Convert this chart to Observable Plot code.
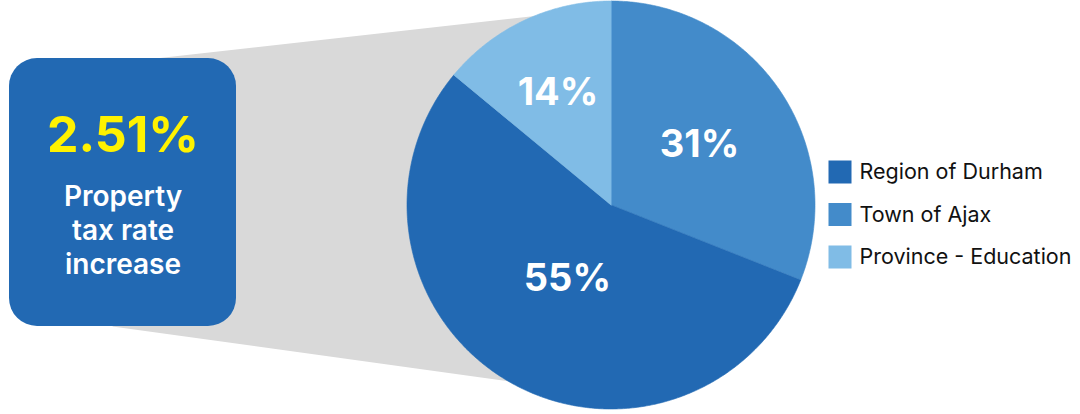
<!DOCTYPE html>
<html>
<head>
<meta charset="utf-8">
<script src="https://cdn.jsdelivr.net/npm/d3@7"></script>
<script src="https://cdn.jsdelivr.net/npm/@observablehq/plot@0.6"></script>
<style>
  html, body { margin: 0; padding: 0; background: #ffffff; }
  svg { display: block; font-family: Inter, "Noto Sans", sans-serif; }
</style>
</head>
<body>
<div id="chart"></div>
<script>
// ---- data ----
const categories = ["Region of Durham", "Town of Ajax", "Province - Education"];
const shares = [55, 31, 14];
const colors = ["#2269b3", "#438bca", "#80bce6"];
const pieOrder = ["Town of Ajax", "Region of Durham", "Province - Education"]; // clockwise from 12 o'clock
const headline = "2.51%";
const captionLines = ["Property", "tax rate", "increase"];

// ---- layout ----
const W = 1080, H = 414;
const cx = 610.5, cy = 204.5, R = 204;
const labelRadius = {"Town of Ajax": 0.525, "Region of Durham": 0.42, "Province - Education": 0.61};
const box = {x1: 9, x2: 236, y1: 58, y2: 326};
const funnel = [
  {x: 155, y: 58}, {x: cx, y: 7}, {x: cx, y: 395}, {x: 112, y: 326}
];

const shareOf = Object.fromEntries(categories.map((c, i) => [c, shares[i]]));
const pieData = pieOrder.map(c => ({cat: c, value: shareOf[c]}));
const arcs = d3.pie().sort(null).value(d => d.value)(pieData);

const wedgePts = [];
const labels = [];
for (const a of arcs) {
  const cat = a.data.cat;
  wedgePts.push({cat, x: cx, y: cy});
  const steps = Math.max(2, Math.ceil((a.endAngle - a.startAngle) / (Math.PI / 360)));
  for (let i = 0; i <= steps; i++) {
    const t = a.startAngle + (a.endAngle - a.startAngle) * i / steps;
    wedgePts.push({cat, x: cx + R * Math.sin(t), y: cy - R * Math.cos(t)});
  }
  const mid = (a.startAngle + a.endAngle) / 2;
  const lr = R * labelRadius[cat];
  labels.push({cat, text: a.data.value + "%", x: cx + lr * Math.sin(mid), y: cy - lr * Math.cos(mid)});
}

const legendData = categories.map((c, i) => ({cat: c, i}));
const legX = 828.5, legSize = 23, legY0 = 172, legStep = 42.5;

const captionData = captionLines.map((t, i) => ({t, i}));
const boxCx = (box.x1 + box.x2) / 2;

const chart = Plot.plot({
  width: W,
  height: H,
  margin: 0,
  style: {background: "transparent", fontFamily: "Inter, 'Noto Sans', sans-serif"},
  x: {domain: [0, W], range: [0, W], axis: null},
  y: {domain: [0, H], range: [0, H], axis: null},
  color: {domain: categories, range: colors},
  marks: [
    // gray funnel
    Plot.line(funnel, {x: "x", y: "y", fill: "#d9d9d9", stroke: "none", curve: "linear-closed"}),
    // pie
    Plot.line(wedgePts, {x: "x", y: "y", z: "cat", fill: "cat", stroke: "cat", strokeWidth: 0.6, curve: "linear-closed"}),
    Plot.text(labels, {x: "x", y: "y", text: "text", fill: "white", fontSize: 38, fontWeight: 700}),
    // left box
    Plot.rect([box], {x1: "x1", x2: "x2", y1: "y1", y2: "y2", fill: "#2269b3", rx: 28}),
    Plot.text([headline], {x: boxCx, y: 135, text: d => d, fill: "#fff200", fontSize: 50, fontWeight: 700}),
    Plot.text(captionData, {x: boxCx, y: d => 197 + d.i * 34, text: "t", fill: "white", fontSize: 28, fontWeight: 600, letterSpacing: "-0.2px"}),
    // legend
    Plot.rect(legendData, {
      x1: legX, x2: legX + legSize,
      y1: d => legY0 + d.i * legStep - legSize / 2,
      y2: d => legY0 + d.i * legStep + legSize / 2,
      fill: "cat"
    }),
    Plot.text(legendData, {x: legX + 30.5, y: d => legY0 + d.i * legStep, text: "cat", textAnchor: "start", fill: "#111111", fontSize: 21.5})
  ]
});
document.getElementById("chart").appendChild(chart);
</script>
</body>
</html>
